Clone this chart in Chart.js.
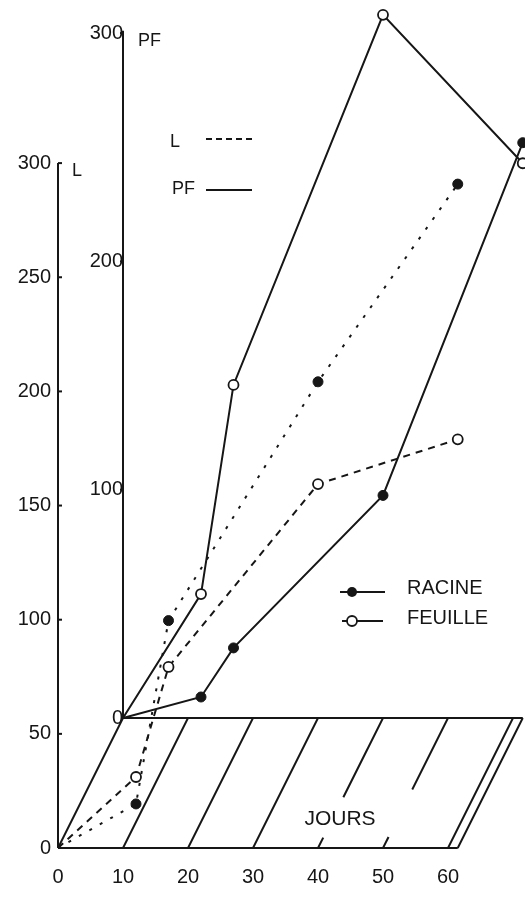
<!DOCTYPE html>
<html><head><meta charset="utf-8">
<script src="https://cdn.jsdelivr.net/npm/chart.js@4.4.1/dist/chart.umd.min.js"></script>
<style>html,body{margin:0;padding:0;background:#fff;}canvas{display:block;}</style>
</head><body>
<canvas id="c" width="525" height="899"></canvas>
<script>
// ---- data ----
const DAYS       = [0, 12, 17, 40, 61.5];
const L_RACINE   = [0, 19.3, 99.6, 204.2, 290.8];
const L_FEUILLE  = [0, 31.1, 79.3, 159.4, 179];
const PF_RACINE  = [0, 9.2, 30.7, 97.5, 252];
const PF_FEUILLE = [0, 54.3, 145.9, 308, 243];
const X_TICKS  = [0, 10, 20, 30, 40, 50, 60];
const L_TICKS  = [0, 50, 100, 150, 200, 250, 300];
const PF_TICKS = [0, 100, 200, 300];

// ---- geometry of the oblique drawing ----
const W = 525, H = 899, LEFT = 58, BOTTOM = 848;
const DAY_PX = 6.5, UNIT_PX = 2.283;
const DEPTH_X = 65, DEPTH_Y = 130;
const xMax = (W - LEFT) / DAY_PX;
const yMax = BOTTOM / UNIT_PX;
const dDays = DEPTH_X / DAY_PX;
const dUnits = DEPTH_Y / UNIT_PX;
const INK = '#161616';
const FONT = '"Liberation Sans", Arial, sans-serif';

const pts = (xs, ys) => xs.map((d, i) => ({x: d, y: ys[i]}));
const rad = c => c.dataIndex === 0 ? 0 : 5;
const noPad = s => { s.paddingTop = 0; s.paddingBottom = 0; s.paddingLeft = 0; s.paddingRight = 0; };

const decor = {
  id: 'decor',
  beforeDatasetsDraw(chart) {
    const {ctx, scales: {x, y, xb, yb}} = chart;
    const F = t => [x.getPixelForValue(t), y.getPixelForValue(0)];
    const B = t => [xb.getPixelForValue(t), yb.getPixelForValue(0)];
    const seg = (a, b) => { ctx.beginPath(); ctx.moveTo(a[0], a[1]); ctx.lineTo(b[0], b[1]); ctx.stroke(); };
    const lerp = (a, b, f) => [a[0] + (b[0] - a[0]) * f, a[1] + (b[1] - a[1]) * f];
    ctx.save();
    ctx.strokeStyle = INK; ctx.lineWidth = 2; ctx.setLineDash([]);
    // floor (time plane)
    const END = 61.5;
    seg(F(0), F(END)); seg(B(0), B(END));
    const hatch = [[0, [[0, 1]]], [10, [[0, 1]]], [20, [[0, 1]]], [30, [[0, 1]]],
                   [40, [[0, 0.08], [0.39, 1]]], [50, [[0, 0.085], [0.45, 1]]],
                   [60, [[0, 1]]], [END, [[0, 1]]]];
    hatch.forEach(([t, parts]) => parts.forEach(([a, b]) => seg(lerp(F(t), B(t), a), lerp(F(t), B(t), b))));
    // L axis (front) and PF axis (back)
    const lx = x.getPixelForValue(0), px = xb.getPixelForValue(0);
    seg([lx, y.getPixelForValue(0)], [lx, y.getPixelForValue(300)]);
    seg([px, yb.getPixelForValue(0)], [px, yb.getPixelForValue(301)]);
    L_TICKS.slice(1).forEach(v => seg([lx, y.getPixelForValue(v)], [lx + 4, y.getPixelForValue(v)]));
    PF_TICKS.slice(1).forEach(v => seg([px - 3, yb.getPixelForValue(v)], [px, yb.getPixelForValue(v)]));
    // axis names
    ctx.fillStyle = INK; ctx.textBaseline = 'middle'; ctx.textAlign = 'left';
    ctx.font = '18px ' + FONT;
    ctx.fillText('L', lx + 14, y.getPixelForValue(300) + 8);
    ctx.fillText('PF', px + 15, yb.getPixelForValue(300) + 8);
    // line-style key
    ctx.fillText('L', 170, 142);
    ctx.fillText('PF', 172, 189);
    ctx.setLineDash([6, 4]); seg([206, 139], [253, 139]);
    ctx.setLineDash([]); seg([206, 190], [252, 190]);
    // organ key
    ctx.font = '20px ' + FONT;
    ctx.fillText('RACINE', 407, 588);
    ctx.fillText('FEUILLE', 407, 618);
    seg([340, 592], [385, 592]); seg([342, 621], [383, 621]);
    ctx.beginPath(); ctx.arc(352, 592, 5, 0, Math.PI * 2); ctx.fill();
    ctx.fillStyle = '#fff'; ctx.lineWidth = 1.8;
    ctx.beginPath(); ctx.arc(352, 621, 5, 0, Math.PI * 2); ctx.fill(); ctx.stroke();
    // JOURS
    ctx.fillStyle = INK; ctx.textAlign = 'center'; ctx.font = '21px ' + FONT;
    ctx.fillText('JOURS', 340, 819);
    ctx.restore();
  }
};

const tickFont = {family: FONT, size: 20};
new Chart(document.getElementById('c'), {
  type: 'line',
  data: {
    datasets: [
      {label: 'L Racine', data: pts(DAYS, L_RACINE), xAxisID: 'x', yAxisID: 'y',
       borderColor: INK, borderWidth: 2, borderDash: [3, 9],
       pointRadius: rad, pointBackgroundColor: INK, pointBorderColor: INK, pointBorderWidth: 1},
      {label: 'L Feuille', data: pts(DAYS, L_FEUILLE), xAxisID: 'x', yAxisID: 'y',
       borderColor: INK, borderWidth: 2, borderDash: [7, 6],
       pointRadius: rad, pointBackgroundColor: '#fff', pointBorderColor: INK, pointBorderWidth: 1.8},
      {label: 'PF Racine', data: pts(DAYS, PF_RACINE), xAxisID: 'xb', yAxisID: 'yb',
       borderColor: INK, borderWidth: 2,
       pointRadius: rad, pointBackgroundColor: INK, pointBorderColor: INK, pointBorderWidth: 1},
      {label: 'PF Feuille', data: pts(DAYS, PF_FEUILLE), xAxisID: 'xb', yAxisID: 'yb',
       borderColor: INK, borderWidth: 2,
       pointRadius: rad, pointBackgroundColor: '#fff', pointBorderColor: INK, pointBorderWidth: 1.8}
    ]
  },
  options: {
    responsive: false, animation: false, devicePixelRatio: 1,
    layout: {padding: 0, autoPadding: false},
    plugins: {legend: {display: false}, tooltip: {enabled: false}},
    scales: {
      x: {type: 'linear', axis: 'x', position: 'bottom', min: 0, max: xMax,
          afterFit(s) { s.height = H - BOTTOM; noPad(s); },
          afterBuildTicks(s) { s.ticks = X_TICKS.map(v => ({value: v})); },
          grid: {display: false, drawTicks: false}, border: {display: false},
          ticks: {padding: 17, font: tickFont, color: INK, maxRotation: 0, autoSkip: false}},
      y: {type: 'linear', axis: 'y', position: 'left', min: 0, max: yMax,
          afterFit(s) { s.width = LEFT; noPad(s); },
          afterBuildTicks(s) { s.ticks = L_TICKS.map(v => ({value: v})); },
          grid: {display: false, drawTicks: false}, border: {display: false},
          ticks: {padding: 7, font: tickFont, color: INK, autoSkip: false}},
      xb: {type: 'linear', axis: 'x', display: false, min: -dDays, max: xMax - dDays,
           afterFit(s) { noPad(s); }},
      yb: {type: 'linear', axis: 'y', position: {xb: 0}, min: -dUnits, max: yMax - dUnits,
           afterFit(s) { noPad(s); },
           afterBuildTicks(s) { s.ticks = PF_TICKS.map(v => ({value: v})); },
           grid: {display: false, drawTicks: false}, border: {display: false},
           ticks: {padding: 4, font: tickFont, color: INK, autoSkip: false}}
    }
  },
  plugins: [decor]
});
</script>
</body></html>
